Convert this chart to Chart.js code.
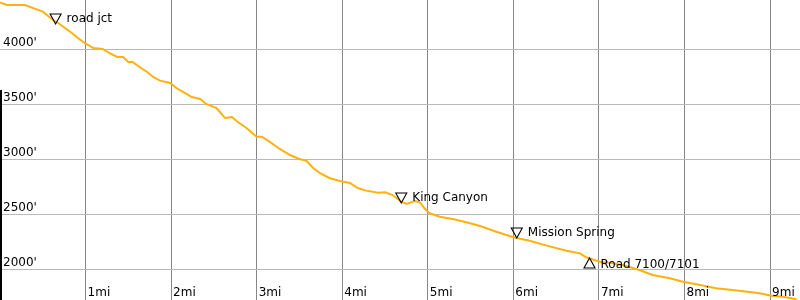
<!DOCTYPE html>
<html>
<head>
<meta charset="utf-8">
<script src="https://cdn.jsdelivr.net/npm/chart.js@4"></script>
<style>
  body { margin: 0; background: #fff; }
  #wrap { width: 800px; height: 300px; position: relative; }
</style>
</head>
<body>
<div id="wrap"><canvas id="chart"></canvas></div>
<script>
// Elevation profile (distance in miles, elevation in feet)
const miles = [0.00, 0.08, 0.29, 0.50, 0.62, 0.68, 0.76, 0.84, 0.91, 0.99, 1.09, 1.20, 1.28, 1.37, 1.44, 1.50, 1.55, 1.63, 1.72, 1.79,
  1.87, 1.99, 2.06, 2.16, 2.24, 2.34, 2.41, 2.53, 2.57, 2.63, 2.71, 2.78, 2.88, 3.00, 3.06, 3.15, 3.27, 3.39, 3.50, 3.58,
  3.66, 3.74, 3.85, 3.97, 4.09, 4.18, 4.28, 4.42, 4.50, 4.59, 4.69, 4.75, 4.85, 4.91, 4.96, 5.02, 5.14, 5.29, 5.45, 5.61,
  5.80, 6.00, 6.19, 6.39, 6.62, 6.78, 6.85, 7.01, 7.16, 7.32, 7.48, 7.63, 7.83, 7.98, 8.14, 8.37, 8.64, 8.88, 9.03, 9.15, 9.31];
const elevation = [4425, 4403, 4403, 4342, 4266, 4239, 4194, 4148, 4103, 4057, 4012, 4003, 3966, 3930, 3930, 3885, 3885, 3839, 3794, 3748,
  3715, 3694, 3648, 3603, 3566, 3548, 3503, 3466, 3430, 3375, 3385, 3339, 3285, 3205, 3205, 3160, 3094, 3039, 3003, 2987,
  2921, 2875, 2830, 2803, 2785, 2739, 2715, 2696, 2700, 2675, 2615, 2594, 2621, 2609, 2555, 2509, 2478, 2457, 2427, 2394,
  2342, 2291, 2260, 2215, 2169, 2145, 2109, 2069, 2055, 2030, 1991, 1948, 1918, 1887, 1864, 1827, 1806, 1782, 1757, 1751, 1727];

// Waypoints
const wpNames = ['road jct', 'King Canyon', 'Mission Spring', 'Road 7100/7101'];
const wpMiles = [0.65, 4.69, 6.04, 6.89];
const wpElev = [4230, 2603, 2285, 2103];
const wpDown = [true, true, true, false];

const xTicks = [1, 2, 3, 4, 5, 6, 7, 8, 9];
const yTicks = [2000, 2500, 3000, 3500, 4000];

const overlay = {
  id: 'overlay',
  afterDatasetsDraw(chart) {
    const c = chart.ctx;
    const xs = chart.scales.x, ys = chart.scales.y;
    c.save();
    c.font = '12px "DejaVu Sans"';
    c.fillStyle = '#000';
    c.textAlign = 'left';
    c.textBaseline = 'alphabetic';
    yTicks.forEach(v => {
      c.fillText(v + "'", 3, ys.getPixelForValue(v) - 3);
    });
    xTicks.forEach(v => {
      c.fillText(v + 'mi', xs.getPixelForValue(v) + 2, 296);
    });
    // waypoints
    c.strokeStyle = '#000';
    c.lineWidth = 1.1;
    wpNames.forEach((name, i) => {
      const px = xs.getPixelForValue(wpMiles[i]);
      const py = ys.getPixelForValue(wpElev[i]);
      c.beginPath();
      if (wpDown[i]) {
        c.moveTo(px, py);
        c.lineTo(px - 5.5, py - 10);
        c.lineTo(px + 5.5, py - 10);
        c.closePath();
        c.stroke();
        c.fillText(name, px + 11, py - 2);
      } else {
        c.moveTo(px, py);
        c.lineTo(px - 5.5, py + 10);
        c.lineTo(px + 5.5, py + 10);
        c.closePath();
        c.stroke();
        c.fillText(name, px + 11, py + 10);
      }
    });
    // left edge bar
    c.fillStyle = '#000';
    c.fillRect(0, 90, 2, chart.height - 90);
    c.restore();
  }
};

new Chart(document.getElementById('chart'), {
  type: 'line',
  data: {
    datasets: [{
      data: miles.map((m, i) => ({ x: m, y: elevation[i] })),
      borderColor: '#ffb10f',
      borderWidth: 2,
      pointRadius: 0,
      tension: 0,
      fill: false
    }]
  },
  options: {
    responsive: true,
    maintainAspectRatio: false,
    animation: false,
    layout: { padding: 0 },
    plugins: { legend: { display: false }, tooltip: { enabled: false } },
    scales: {
      x: {
        type: 'linear',
        min: 0,
        max: 9.35,
        afterBuildTicks: s => { s.ticks = xTicks.map(v => ({ value: v })); },
        ticks: { display: false },
        border: { display: false },
        grid: { drawTicks: false, color: '#878787', lineWidth: 1 }
      },
      y: {
        min: 1721,
        max: 4448,
        afterBuildTicks: s => { s.ticks = yTicks.map(v => ({ value: v })); },
        ticks: { display: false },
        border: { display: false },
        grid: { drawTicks: false, color: '#b9b9b9', lineWidth: 1 }
      }
    }
  },
  plugins: [overlay]
});
</script>
</body>
</html>
